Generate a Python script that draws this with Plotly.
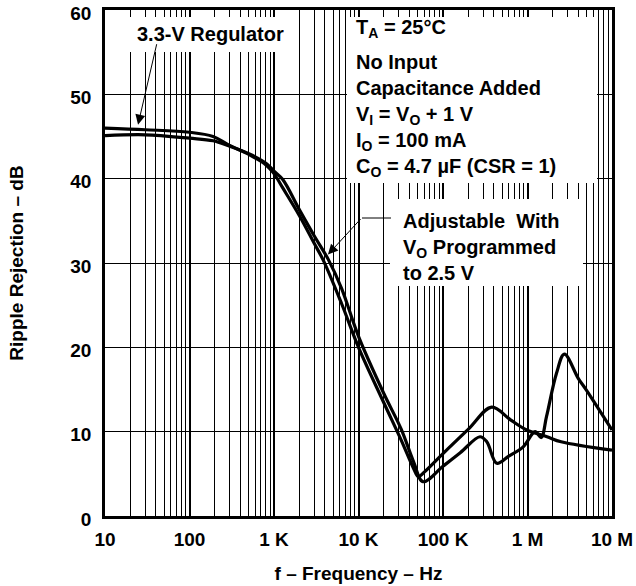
import math
import plotly.graph_objects as go

# ---------------- data ----------------
freq_reg33 = [10, 30, 100, 190, 290, 520, 810, 1000, 1270, 2000, 3000, 3800, 6300, 10000,
              20000, 32000, 45000, 51000, 60000, 100000, 200000, 377000, 630000, 980000,
              1700000, 2500000, 10000000]
db_reg33 = [46.0, 45.8, 45.5, 45.0, 44.0, 42.8, 41.6, 40.6, 38.9, 35.6, 32.3, 30.4, 25.2, 20.0,
            13.4, 9.0, 5.6, 4.66, 5.2, 7.4, 10.3, 12.9, 11.4, 10.2,
            9.4, 8.8, 7.8]

freq_adj = [10, 30, 100, 190, 290, 520, 810, 1000, 1270, 2000, 3000, 4400, 6300, 10000,
            20000, 32000, 45000, 58000, 100000, 160000, 274000, 330000, 433000, 600000,
            890000, 1230000, 1450000, 1680000, 2200000, 2730000, 4000000, 5000000, 10000000]
db_adj = [45.1, 45.2, 44.8, 44.5, 43.9, 42.9, 41.8, 40.9, 39.9, 36.3, 33.2, 30.4, 27.0, 21.3,
          14.5, 10.3, 6.4, 4.07, 5.9, 7.5, 9.4, 8.8, 6.25, 7.1,
          8.2, 10.0, 9.3, 11.8, 16.9, 19.2, 16.3, 14.9, 10.2]

x_tickvals = [10, 100, 1000, 10000, 100000, 1000000, 10000000]
x_ticktext = ["10", "100", "1 K", "10 K", "100 K", "1 M", "10 M"]
y_tickvals = [0, 10, 20, 30, 40, 50, 60]

FONT = "Liberation Sans, Arial, Helvetica, sans-serif"
W, H = 636, 586
L, R, T, B = 105, 24, 10, 70
PW, PH = W - L - R, H - T - B


def xp(px):
    return (px - L) / PW


def yp(py):
    return (H - B - py) / PH


fig = go.Figure()
for fx, fy, name in [(freq_reg33, db_reg33, "3.3-V Regulator"),
                     (freq_adj, db_adj, "Adjustable")]:
    fig.add_trace(go.Scatter(x=fx, y=fy, mode="lines", name=name,
                             line=dict(color="black", width=3.2, shape="spline", smoothing=1.0),
                             showlegend=False, hoverinfo="skip"))

fig.update_layout(
    width=W, height=H,
    margin=dict(l=L, r=R, t=T, b=B, autoexpand=False),
    paper_bgcolor="white", plot_bgcolor="white",
    font=dict(family=FONT, size=19, color="black", weight="bold"),
    xaxis=dict(type="log", range=[1, 7], tickvals=x_tickvals, ticktext=x_ticktext,
               showgrid=True, gridcolor="black", gridwidth=1.6,
               minor=dict(dtick="D1", showgrid=True, gridcolor="black", gridwidth=1, ticks=""),
               ticks="", showline=True, linecolor="black", linewidth=2.5, mirror=True,
               zeroline=False, ticklabelstandoff=4, automargin=False,
               ticklabeloverflow="allow",
               tickfont=dict(family=FONT, size=19, color="black", weight="bold"),
               title=dict(text="f – Frequency – Hz", standoff=19,
                          font=dict(family=FONT, size=19, color="black", weight="bold"))),
    yaxis=dict(range=[0, 60], tickvals=y_tickvals,
               showgrid=True, gridcolor="black", gridwidth=1,
               ticks="", showline=True, linecolor="black", linewidth=2.5, mirror=True,
               zeroline=False, ticklabelstandoff=7, ticklabelshift=3, automargin=False,
               ticklabeloverflow="allow",
               tickfont=dict(family=FONT, size=19, color="black", weight="bold"),
               title=dict(text="Ripple Rejection – dB", standoff=42,
                          font=dict(family=FONT, size=19, color="black", weight="bold"))),
)

# white label boxes covering the grid (the curves do not pass under them)
for x0, x1, y0, y1 in [(127, 293, 17, 52), (347, 597, 17, 183), (390, 583, 199, 286)]:
    fig.add_shape(type="rect", xref="paper", yref="paper", x0=xp(x0), x1=xp(x1),
                  y0=yp(y1), y1=yp(y0), fillcolor="white", line=dict(width=0), layer="above")

TF = dict(family=FONT, size=20, color="black")
fig.add_annotation(xref="paper", yref="paper", x=xp(210), y=yp(34), xanchor="center", yanchor="middle",
                   text="<b>3.3-V Regulator</b>", showarrow=False, font=TF)
fig.add_annotation(xref="paper", yref="paper", x=xp(354), y=yp(28), xanchor="left", yanchor="middle",
                   text="<b>T<sub>A</sub> = 25°C</b>", showarrow=False, font=TF)
fig.add_annotation(xref="paper", yref="paper", x=xp(354), y=yp(115), xanchor="left", yanchor="middle",
                   text=("<b>No Input<br>Capacitance Added<br>"
                         "V<sub>I</sub> = V<sub>O</sub> + 1 V<br>I<sub>O</sub> = 100 mA<br>"
                         "C<sub>O</sub> = 4.7 µF (CSR = 1)</b>"),
                   showarrow=False, align="left", font=TF)
fig.add_annotation(xref="paper", yref="paper", x=xp(401), y=yp(247), xanchor="left", yanchor="middle",
                   text="<b>Adjustable  With<br>V<sub>O</sub> Programmed<br>to 2.5 V</b>",
                   showarrow=False, align="left", font=TF)

# arrows
fig.add_annotation(x=math.log10(24.6), y=46.4, ax=19, ay=-82, text="", showarrow=True,
                   arrowhead=2, arrowsize=2, arrowwidth=1, arrowcolor="black")
fig.add_annotation(x=math.log10(4350), y=31.0, ax=34, ay=-37, text="", showarrow=True,
                   arrowhead=2, arrowsize=2, arrowwidth=1, arrowcolor="black")
fig.add_shape(type="line", xref="paper", yref="paper", x0=xp(362), x1=xp(391),
              y0=yp(218), y1=yp(218), line=dict(color="black", width=1), layer="above")

# the page's default body margin would shift the 636x586 figure; remove it
fig.write_html("out.html", config={"displayModeBar": False},
               post_script="document.body.style.margin='0px';")
